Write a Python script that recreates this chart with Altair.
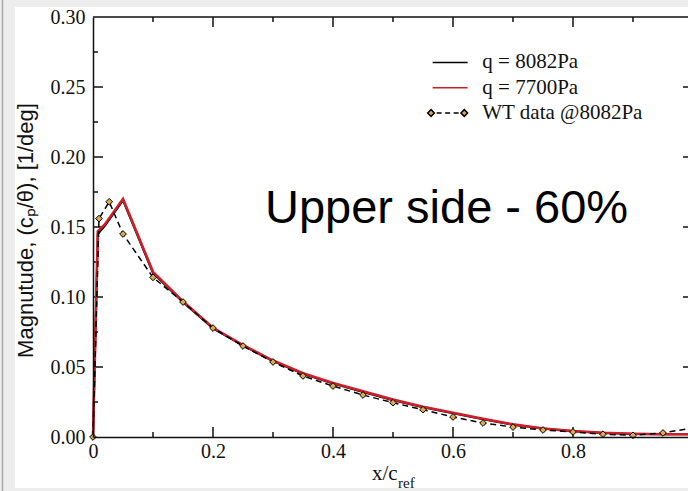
import altair as alt
import pandas as pd

# ---------------- data ----------------
x_model = [0.0, 0.008, 0.02, 0.05, 0.10, 0.15, 0.20, 0.25, 0.30, 0.35, 0.40, 0.45,
           0.50, 0.55, 0.60, 0.65, 0.70, 0.75, 0.80, 0.85, 0.90, 0.95, 1.00]
q8082 = [0.0, 0.145, 0.151, 0.169, 0.117, 0.0962, 0.0775, 0.0652, 0.0542, 0.0452, 0.0382,
         0.0322, 0.0263, 0.0212, 0.0169, 0.0127, 0.0088, 0.0060, 0.0041, 0.0029, 0.0022,
         0.0019, 0.0019]
q7700 = [0.0, 0.147, 0.152, 0.170, 0.118, 0.0968, 0.0780, 0.0656, 0.0546, 0.0456, 0.0386,
         0.0326, 0.0267, 0.0216, 0.0173, 0.0130, 0.0090, 0.0061, 0.0042, 0.0030, 0.0023,
         0.0020, 0.0020]
x_wt = [0.0, 0.010, 0.027, 0.05, 0.10, 0.15, 0.20, 0.25, 0.30, 0.35, 0.40, 0.45,
        0.50, 0.55, 0.60, 0.65, 0.70, 0.75, 0.80, 0.85, 0.90, 0.95, 1.00]
wt_8082 = [0.0, 0.156, 0.168, 0.145, 0.114, 0.0964, 0.0778, 0.0650, 0.0536, 0.0436, 0.0364,
           0.0300, 0.0245, 0.0195, 0.0143, 0.0100, 0.0071, 0.0050, 0.0036, 0.0020, 0.0012,
           0.0029, 0.0065]

series_names = ["q = 8082Pa", "q = 7700Pa", "WT data @8082Pa"]
x_label_values = [0.0, 0.2, 0.4, 0.6, 0.8]
y_label_values = [0.00, 0.05, 0.10, 0.15, 0.20, 0.25, 0.30]
x_major_ticks = [0.2, 0.4, 0.6, 0.8]
x_minor_ticks = [0.1, 0.3, 0.5, 0.7, 0.9]
y_major_ticks = [0.05, 0.10, 0.15, 0.20, 0.25]
y_minor_ticks = [0.025, 0.075, 0.125, 0.175, 0.225, 0.275]

annotation_text = "Upper side - 60%"
y_title = "Magnutude, (c\u209a/\u03b8),  [1/deg]"
x_title_main = "x/c"
x_title_sub = "ref"

# ---------------- geometry / style ----------------
W, H = 595, 420
PX_PER_X = 600.0           # pixels per unit of x/c_ref
XMAX = W / PX_PER_X        # plot is cropped on the right, as in the reference
YMAX = 0.30
RED = "#cc1f2a"
FILL = "#dca84c"
SERIF = "Liberation Serif"
SANS = "Liberation Sans"

MAJ_X = 10 / PX_PER_X      # tick lengths converted into data units
MIN_X = 5 / PX_PER_X
MAJ_Y = 10 * YMAX / H
MIN_Y = 5 * YMAX / H

# ---------------- tables ----------------
black_df = pd.DataFrame({"x": x_model, "y": q8082})
red_df = pd.DataFrame({"x": x_model, "y": q7700})
wt_df = pd.DataFrame({"x": x_wt, "y": wt_8082, "series": "pts"})

tick_rows = []
for v in x_major_ticks + [1.0]:
    tick_rows.append({"x": v, "x2": v, "y": 0.0, "y2": MAJ_Y})
    tick_rows.append({"x": v, "x2": v, "y": YMAX, "y2": YMAX - MAJ_Y})
for v in x_minor_ticks:
    tick_rows.append({"x": v, "x2": v, "y": 0.0, "y2": MIN_Y})
    tick_rows.append({"x": v, "x2": v, "y": YMAX, "y2": YMAX - MIN_Y})
for v in y_major_ticks:
    tick_rows.append({"x": 0.0, "x2": MAJ_X, "y": v, "y2": v})
    tick_rows.append({"x": 1.0, "x2": 1.0 - MAJ_X, "y": v, "y2": v})
for v in y_minor_ticks:
    tick_rows.append({"x": 0.0, "x2": MIN_X, "y": v, "y2": v})
    tick_rows.append({"x": 1.0, "x2": 1.0 - MIN_X, "y": v, "y2": v})
tick_rows.append({"x": 0.0, "x2": 1.0, "y": YMAX, "y2": YMAX})  # top frame line
ticks_df = pd.DataFrame(tick_rows)

one = pd.DataFrame({"a": [0]})

x_scale = alt.Scale(domain=[0, XMAX], nice=False, zero=False)
y_scale = alt.Scale(domain=[0, YMAX], nice=False, zero=False)

x_axis = alt.Axis(values=x_label_values, ticks=False, grid=False, title=None,
                  labelExpr="datum.value == 0 ? '0' : format(datum.value, '.1f')",
                  labelFont=SERIF, labelFontSize=20, labelColor="#111",
                  labelPadding=4, labelFlush=False, domainColor="#111",
                  domainWidth=1.5, zindex=1)
y_axis = alt.Axis(values=y_label_values, format=".2f", ticks=False, grid=False,
                  title=y_title, titleFont=SANS, titleFontSize=22,
                  titleFontWeight="normal", titleColor="#111", titleAngle=270,
                  titleX=-61, titleY=213, titleAlign="center",
                  titleBaseline="alphabetic",
                  labelFont=SERIF, labelFontSize=20, labelColor="#111",
                  labelPadding=8, labelFlush=False, domainColor="#111",
                  domainWidth=1.5, zindex=1)

X = alt.X("x:Q", scale=x_scale, axis=x_axis)
Y = alt.Y("y:Q", scale=y_scale, axis=y_axis)

# ---------------- layers ----------------
panel = alt.Chart(one).mark_rect(color="white").encode(
    x=alt.value(-78), x2=alt.value(W + 10), y=alt.value(-10), y2=alt.value(H + 51))
edge = alt.Chart(one).mark_rule(color="#a9a9a9", strokeWidth=1.5).encode(
    x=alt.value(-90.5), y=alt.value(-17), y2=alt.value(H + 54))

ticks = alt.Chart(ticks_df).mark_rule(color="#111", strokeWidth=1.5).encode(
    x=X, x2="x2:Q", y=Y, y2="y2:Q")

black_line = alt.Chart(black_df).mark_line(color="black", strokeWidth=2).encode(x=X, y=Y)
red_line = alt.Chart(red_df).mark_line(color=RED, strokeWidth=2.6).encode(x=X, y=Y)
wt_line = alt.Chart(wt_df).mark_line(color="black", strokeWidth=1.5,
                                     strokeDash=[6, 4]).encode(x=X, y=Y)

# legend symbols (custom paths, scaled by sqrt(size)/2)
LINE_PATH = "M-4.47,0L5.96,0"
WT_PATH = ("M-5.96,0L-4.96,-1L-3.96,0L-4.96,1Z "
           "M-3.28,0L-1.79,0 M-0.75,0L0.75,0 M1.79,0L3.28,0 "
           "M3.96,0L4.96,-1L5.96,0L4.96,1Z")
leg_domain = series_names + ["pts"]
legend = alt.Legend(orient="none", legendX=344.15, legendY=34.9, title=None,
                    values=series_names, labelFont=SERIF, labelFontSize=21,
                    labelColor="#111", labelLimit=400, symbolSize=45,
                    symbolFillColor=FILL, symbolStrokeWidth=1.5, rowPadding=3.3,
                    labelOffset=24.15, padding=0, symbolOffset=0)

wt_points = alt.Chart(wt_df).mark_point(filled=True, fill=FILL, strokeWidth=1,
                                        size=45, opacity=1).encode(
    x=X, y=Y,
    shape=alt.Shape("series:N", scale=alt.Scale(domain=leg_domain,
                    range=[LINE_PATH, LINE_PATH, WT_PATH, "diamond"]), legend=legend),
    stroke=alt.Stroke("series:N", scale=alt.Scale(domain=leg_domain,
                      range=["black", RED, "black", "black"]), legend=legend),
)

note = alt.Chart(one).mark_text(text=annotation_text, font=SANS, fontSize=47,
                                align="left", baseline="alphabetic",
                                color="black").encode(
    x=alt.value(172), y=alt.value(206))
xt_main = alt.Chart(one).mark_text(text=x_title_main, font=SERIF, fontSize=21,
                                   align="left", baseline="alphabetic",
                                   color="#111").encode(
    x=alt.value(279), y=alt.value(463))
xt_sub = alt.Chart(one).mark_text(text=x_title_sub, font=SERIF, fontSize=15,
                                  align="left", baseline="alphabetic",
                                  color="#111").encode(
    x=alt.value(305), y=alt.value(471))

chart = alt.layer(
    panel, edge, ticks, black_line, red_line, wt_line, wt_points, note, xt_main, xt_sub
).properties(
    width=W, height=H,
    autosize=alt.AutoSizeParams(type="none"),
    padding={"left": 93, "top": 17, "right": 0, "bottom": 54},
    background="#ededed",
).configure_view(stroke="transparent")

chart.save("out.html", embed_options={"renderer": "svg", "actions": False})
